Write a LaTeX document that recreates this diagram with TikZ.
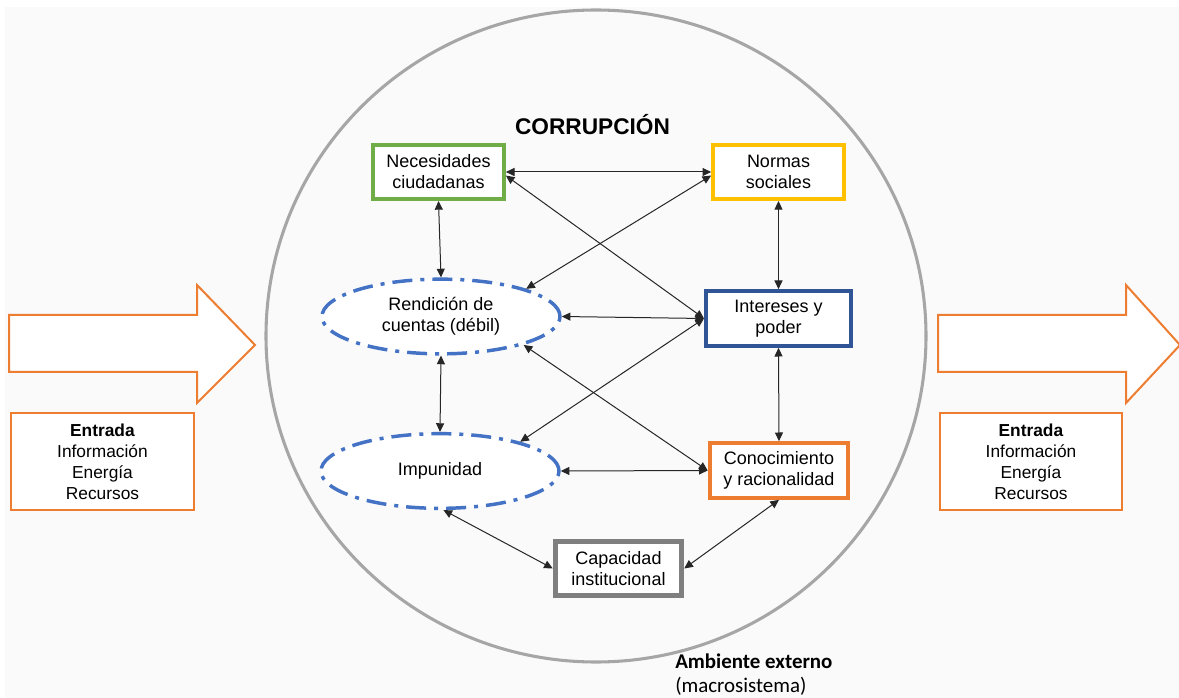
\documentclass[tikz,border=0pt]{standalone}
\usepackage{fontspec}
\setmainfont{Liberation Sans}
\newfontfamily\calibri{Carlito}
\usetikzlibrary{arrows.meta,shapes.geometric}
\definecolor{cgreen}{HTML}{70AD47}
\definecolor{cyellow}{HTML}{FFC000}
\definecolor{cblue}{HTML}{2F5597}
\definecolor{corange}{HTML}{ED7D31}
\definecolor{cgray}{HTML}{7F7F7F}
\definecolor{cell}{HTML}{4472C4}
\definecolor{ccircle}{HTML}{A6A6A6}
\definecolor{cbg}{HTML}{FAFAFA}
\begin{document}
\begin{tikzpicture}[x=0.75pt,y=-0.75pt,
  box/.style={rectangle, draw=#1, line width=3pt, fill=white, align=center,
    inner sep=0pt, minimum width=98pt, minimum height=40.5pt,
    font=\fontsize{13.5}{15.75}\selectfont},
  oval/.style={ellipse, draw=cell, line width=2.6pt,
    dash pattern=on 15pt off 6pt on 3pt off 6pt, fill=white,
    minimum width=178.5pt, minimum height=56pt, align=center, inner sep=0pt,
    font=\fontsize{13.5}{15.75}\selectfont},
  link/.style={draw=black!85, line width=0.75pt,
    {Triangle[length=6.5pt,width=6pt]}-{Triangle[length=6.5pt,width=6pt]}},
  bigarrow/.style={draw=corange, line width=1.5pt, fill=white, line join=miter},
  entrada/.style={rectangle, draw=corange, line width=1.5pt, fill=white,
    align=center, inner sep=0pt, minimum width=137pt, minimum height=73pt,
    font=\fontsize{13}{15.75}\selectfont},
]
\useasboundingbox (0,0) rectangle (1179,698);
\fill[white] (0,0) rectangle (1179,698);
\fill[cbg] (5,7) rectangle (1179,698);

% outer circle
\draw[ccircle, line width=2.3pt] (596,336) ellipse [x radius=330, y radius=326];

% big arrows
\draw[bigarrow] (9,315) -- (197,315) -- (197,285) -- (255,345) -- (197,403) -- (197,372) -- (9,372) -- cycle;
\draw[bigarrow] (938,315) -- (1126,315) -- (1126,285) -- (1180,345) -- (1126,403) -- (1126,372) -- (938,372) -- cycle;

% entrada boxes
\node[entrada] (inL) at (102.5,461.5) {\textbf{Entrada}\\Información\\Energía\\Recursos};
\node[entrada] (inR) at (1031,461.5) {\textbf{Entrada}\\Información\\Energía\\Recursos};

% title
\node[font=\fontsize{17}{20}\selectfont\bfseries] (title) at (592.5,124.5) {CORRUPCIÓN};

% nodes
\node[box=cgreen] (nec) at (438.5,172) {Necesidades\\ciudadanas};
\node[box=cyellow] (nor) at (778.5,172) {Normas\\sociales};
\node[box=cblue, minimum width=108.75pt, minimum height=41pt] (int) at (778.5,318.5) {Intereses y\\poder};
\node[box=corange, minimum width=104pt, minimum height=41pt] (con) at (779,470.5) {Conocimiento\\y racionalidad};
\node[box=cgray, line width=3.6pt, minimum width=95pt, minimum height=40pt] (cap) at (618.5,568.5) {Capacidad\\institucional};
\node[oval] (ren) at (441,316.5) {Rendición de\\cuentas (débil)};
\node[oval] (imp) at (440,471) {Impunidad};

% connectors
\draw[link] (nec.east) -- (nor.west);
\draw[link] (nec.south) -- (ren.north);
\draw[link] (nec.-3) -- (int.west);
\draw[link] (nor.183) -- (ren.18);
\draw[link] (nor.south) -- (int.north);
\draw[link] (ren.east) -- (int.west);
\draw[link] (imp.20) -- (int.west);
\draw[link] (ren.-19) -- (con.west);
\draw[link] (imp.east) -- (con.west);
\draw[link] (ren.south) -- (imp.north);
\draw[link] (imp.-85) -- (cap.west);
\draw[link] (con.south) -- (cap.east);
\draw[link] (int.south) -- (con.north);

% external environment
\node[anchor=north west, align=left, inner sep=0pt,
  font=\calibri\fontsize{15.7}{18}\selectfont] (amb) at (675,654)
  {\textbf{Ambiente externo}\\(macrosistema)};
\end{tikzpicture}
\end{document}
